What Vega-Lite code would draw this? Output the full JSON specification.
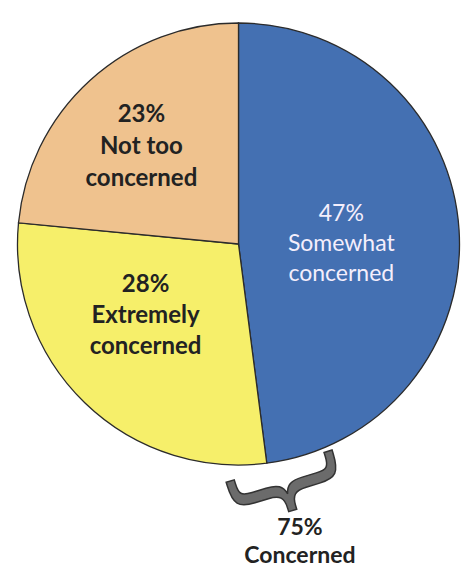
{
  "$schema": "https://vega.github.io/schema/vega-lite/v6.json",
  "autosize": {"type": "none"},
  "width": 457,
  "height": 488,
  "padding": {"left": 10, "top": 0, "right": 0, "bottom": 81},
  "background": "white",
  "config": {"view": {"stroke": null}},
  "data": {"values": [
    {"response": "Somewhat concerned", "pct": 47, "label": "47%\nSomewhat\nconcerned", "order": 1},
    {"response": "Extremely concerned", "pct": 28, "label": "28%\nExtremely\nconcerned", "order": 2},
    {"response": "Not too concerned", "pct": 23, "label": "23%\nNot too\nconcerned", "order": 3}
  ]},
  "layer": [
    {
      "mark": {"type": "arc", "outerRadius": 221, "stroke": "#2b2b2b", "strokeWidth": 1.3},
      "encoding": {
        "theta": {"field": "pct", "type": "quantitative", "stack": true},
        "order": {"field": "order", "type": "quantitative"},
        "color": {"field": "response", "type": "nominal", "legend": null,
          "scale": {"domain": ["Somewhat concerned", "Extremely concerned", "Not too concerned"],
                    "range": ["#4470b2", "#f6ef6a", "#efc28e"]}}
      }
    },
    {
      "mark": {"type": "text", "radius": 103, "dy": -23, "fontSize": 23, "font": "Lato", "fontWeight": "normal", "lineBreak": "\n", "lineHeight": 30, "color": "#f4eefc", "baseline": "middle", "align": "center"},
      "encoding": {
        "theta": {"field": "pct", "type": "quantitative", "stack": true},
        "order": {"field": "order", "type": "quantitative"},
        "text": {"condition": {"test": "datum.response === 'Somewhat concerned'", "field": "label"}, "value": ""}
      }
    },
    {
      "mark": {"type": "text", "radius": 125, "dx": -6, "dy": -49, "fontSize": 24, "font": "Lato", "fontWeight": "bold", "lineBreak": "\n", "lineHeight": 31, "color": "#222222", "baseline": "middle", "align": "center"},
      "encoding": {
        "theta": {"field": "pct", "type": "quantitative", "stack": true},
        "order": {"field": "order", "type": "quantitative"},
        "text": {"condition": {"test": "datum.response === 'Extremely concerned'", "field": "label"}, "value": ""}
      }
    },
    {
      "mark": {"type": "text", "radius": 134, "dx": -7, "dy": -30, "fontSize": 24, "font": "Lato", "fontWeight": "bold", "lineBreak": "\n", "lineHeight": 32, "color": "#222222", "baseline": "middle", "align": "center"},
      "encoding": {
        "theta": {"field": "pct", "type": "quantitative", "stack": true},
        "order": {"field": "order", "type": "quantitative"},
        "text": {"condition": {"test": "datum.response === 'Not too concerned'", "field": "label"}, "value": ""}
      }
    },
    {
      "data": {"values": [
        {"ax": 0.215, "ay": -1.105, "note": "}"}
      ]},
      "mark": {"type": "text", "fontSize": 120, "font": "DejaVu Sans", "angle": 73, "baseline": "middle", "align": "center", "color": "#6b6b6b", "stroke": "#333333", "strokeWidth": 1.5},
      "encoding": {
        "x": {"field": "ax", "type": "quantitative", "axis": null, "scale": {"domain": [-1.034, 1.034], "nice": false, "zero": false}},
        "y": {"field": "ay", "type": "quantitative", "axis": null, "scale": {"domain": [-1.104, 1.104], "nice": false, "zero": false}},
        "text": {"field": "note"}
      }
    },
    {
      "data": {"values": [
        {"ax": 0.278, "ay": -1.287, "note": "75%\nConcerned"}
      ]},
      "mark": {"type": "text", "fontSize": 23, "font": "Lato", "fontWeight": "bold", "lineBreak": "\n", "lineHeight": 28, "baseline": "middle", "align": "center", "color": "#222222"},
      "encoding": {
        "x": {"field": "ax", "type": "quantitative", "axis": null, "scale": {"domain": [-1.034, 1.034], "nice": false, "zero": false}},
        "y": {"field": "ay", "type": "quantitative", "axis": null, "scale": {"domain": [-1.104, 1.104], "nice": false, "zero": false}},
        "text": {"field": "note"}
      }
    }
  ]
}
